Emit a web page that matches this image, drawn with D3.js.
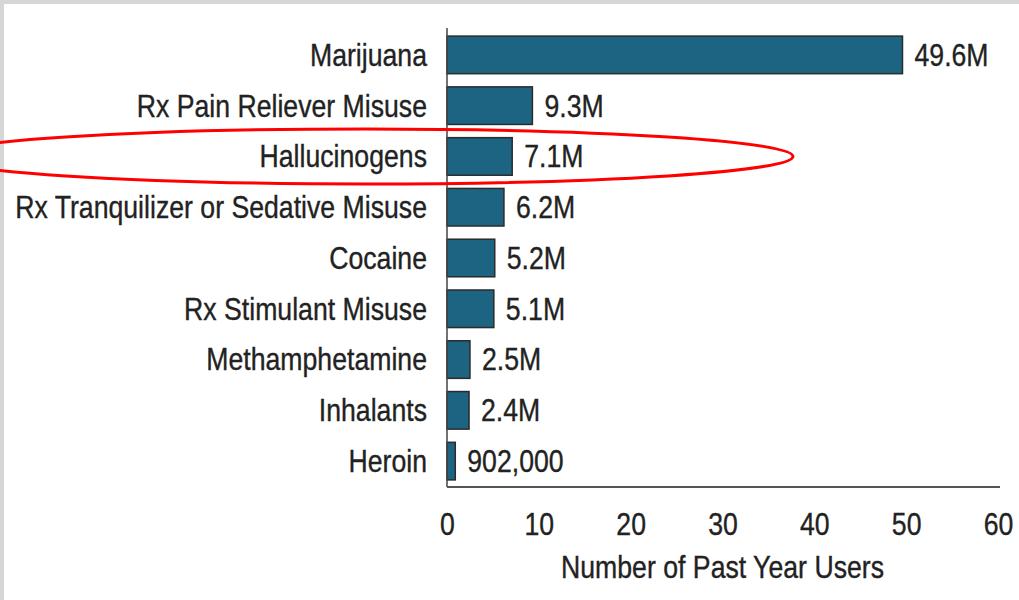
<!DOCTYPE html>
<html>
<head>
<meta charset="utf-8">
<script src="https://cdn.jsdelivr.net/npm/d3@7/dist/d3.min.js"></script>
<style>
  html, body { margin: 0; padding: 0; background: #fff; }
  svg text { font-family: "Liberation Sans", Arial, sans-serif; fill: #222; stroke: #222; stroke-width: 0.35px; }
</style>
</head>
<body>
<svg id="chart" width="1019" height="600"></svg>
<script>
const categories = ["Marijuana", "Rx Pain Reliever Misuse", "Hallucinogens", "Rx Tranquilizer or Sedative Misuse", "Cocaine", "Rx Stimulant Misuse", "Methamphetamine", "Inhalants", "Heroin"];
const values = [49.6, 9.3, 7.1, 6.2, 5.2, 5.1, 2.5, 2.4, 0.902];
const valueLabels = ["49.6M", "9.3M", "7.1M", "6.2M", "5.2M", "5.1M", "2.5M", "2.4M", "902,000"];
const xTicks = [0, 10, 20, 30, 40, 50, 60];
const xTitle = "Number of Past Year Users";
const highlighted = "Hallucinogens";

const NARROW = 0.86; // emulate a narrow (condensed) face
const FS = 31;

const svg = d3.select("#chart");
const W = 1019, H = 600;

// frame
svg.append("rect").attr("x", 0).attr("y", 0).attr("width", W).attr("height", H).attr("fill", "#d6d6d6");
svg.append("rect").attr("x", 4).attr("y", 4).attr("width", W - 4).attr("height", H - 4).attr("fill", "#fff");

const x = d3.scaleLinear().domain([0, 60]).range([447, 998]);
const y = d3.scaleBand().domain(categories).range([29.5, 486.5]).paddingInner(0.26).paddingOuter(0.13);

// bars
svg.append("g").selectAll("rect").data(categories).join("rect")
  .attr("x", x(0))
  .attr("y", d => y(d))
  .attr("width", (d, i) => x(values[i]) - x(0))
  .attr("height", y.bandwidth())
  .attr("fill", "#1c6481")
  .attr("stroke", "#2b2b2b")
  .attr("stroke-width", 1.5);

// category labels
svg.append("g").selectAll("text").data(categories).join("text")
  .attr("transform", d => `translate(427,${y(d) + y.bandwidth() / 2}) scale(${NARROW},1)`)
  .attr("dy", "0.35em")
  .attr("text-anchor", "end")
  .attr("font-size", FS)
  .text(d => d);

// value labels
svg.append("g").selectAll("text").data(categories).join("text")
  .attr("transform", (d, i) => `translate(${x(values[i]) + 12},${y(d) + y.bandwidth() / 2}) scale(${NARROW},1)`)
  .attr("dy", "0.35em")
  .attr("font-size", FS)
  .text((d, i) => valueLabels[i]);

// y axis line
svg.append("line").attr("x1", x(0)).attr("x2", x(0)).attr("y1", 28).attr("y2", 487)
  .attr("stroke", "#444").attr("stroke-width", 1.5);

// x axis
const xAxis = d3.axisBottom(x).tickValues(xTicks).tickSize(0).tickPadding(26).tickFormat(d3.format("d"));
const gx = svg.append("g").attr("transform", "translate(0,487)").call(xAxis);
gx.select(".domain").attr("stroke", "#555").attr("stroke-width", 2).attr("d", `M${x(0)},0H1000`);
gx.selectAll("text")
  .attr("font-size", FS).attr("font-family", null).attr("fill", "#222")
  .attr("transform", `scale(${NARROW},1)`);

svg.append("text")
  .attr("transform", `translate(${x(30)},578) scale(${NARROW},1)`)
  .attr("text-anchor", "middle")
  .attr("font-size", FS)
  .text(xTitle);

// highlight ellipse
const hy = y(highlighted) + y.bandwidth() / 2;
svg.append("ellipse")
  .attr("cx", 367).attr("cy", hy).attr("rx", 426).attr("ry", 27.5)
  .attr("fill", "none").attr("stroke", "#ff0000").attr("stroke-width", 3);
</script>
</body>
</html>
